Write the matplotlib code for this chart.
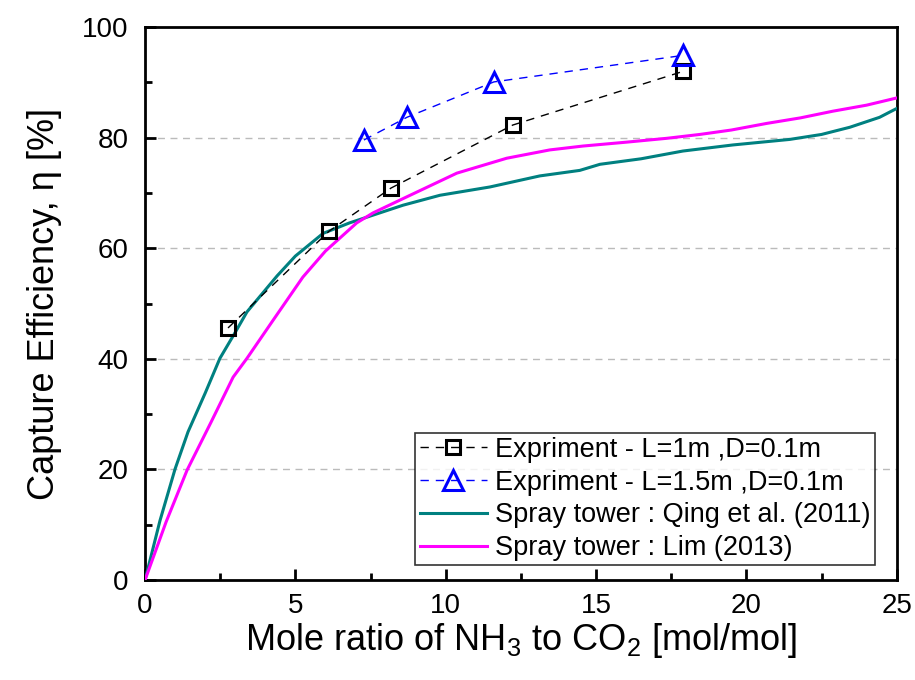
import matplotlib
matplotlib.use('Agg')
import matplotlib.pyplot as plt
from matplotlib.ticker import MultipleLocator

plt.rcParams['font.family'] = ['Liberation Sans', 'DejaVu Sans']
plt.rcParams['mathtext.fontset'] = 'custom'
plt.rcParams['mathtext.rm'] = 'Liberation Sans'
plt.rcParams['mathtext.it'] = 'Liberation Sans:italic'

# experiment, L=1m
exp1_x = [2.76, 6.12, 8.18, 12.23, 17.89]
exp1_y = [45.6, 63.1, 70.9, 82.3, 92.0]

# experiment, L=1.5m
exp2_x = [7.28, 8.71, 11.6, 17.89]
exp2_y = [79.6, 83.7, 90.1, 94.9]

# Qing et al. (2011)
qing_x = [0, 0.5, 1.0, 1.43, 2.0, 2.49, 3.0, 3.39, 4.39, 5.0, 5.92, 6.8, 7.58, 8.58,
          9.81, 11.47, 13.13, 14.46, 15.13, 16.5, 17.89, 19.55, 21.44, 22.5, 23.44, 24.43, 25]
qing_y = [0, 10.8, 20.1, 26.8, 33.8, 40.1, 44.8, 48.5, 55.0, 58.6, 62.7, 64.6, 66.0, 67.8,
          69.6, 71.1, 73.1, 74.1, 75.2, 76.2, 77.6, 78.7, 79.7, 80.6, 81.9, 83.7, 85.3]

# Lim (2013)
lim_x = [0, 0.7, 1.4, 2.2, 2.93, 3.39, 4.26, 5.25, 6.0, 7.04, 7.58, 8.7, 10.37, 12.03,
         13.46, 14.56, 16.0, 17.35, 18.45, 19.5, 20.68, 21.8, 22.87, 24.0, 25]
lim_y = [0, 10.5, 19.9, 28.6, 36.7, 40.1, 47.0, 54.8, 59.5, 64.6, 66.4, 69.3, 73.6, 76.3,
         77.8, 78.5, 79.2, 79.9, 80.6, 81.4, 82.6, 83.6, 84.8, 85.9, 87.2]

fig = plt.figure(figsize=(9.15, 6.8), dpi=100)
ax = fig.add_axes([0.1585, 0.147, 0.8215, 0.813])

ax.plot(exp1_x, exp1_y, ls=(0, (6, 5)), lw=1.0, color='black', marker='s', ms=10,
        mfc='none', mec='black', mew=2.2, label='Expriment - L=1m ,D=0.1m', zorder=4)
ax.plot(exp2_x, exp2_y, ls=(0, (6, 5)), lw=1.0, color='blue', marker='^', ms=15,
        mfc='none', mec='blue', mew=2.2, label='Expriment - L=1.5m ,D=0.1m', zorder=4)
ax.plot(qing_x, qing_y, color='#008080', lw=2.2, label='Spray tower : Qing et al. (2011)', zorder=3)
ax.plot(lim_x, lim_y, color='#ff00ff', lw=2.2, label='Spray tower : Lim (2013)', zorder=3)

ax.set_xlim(0, 25)
ax.set_ylim(0, 100)
ax.xaxis.set_major_locator(MultipleLocator(5))
ax.xaxis.set_minor_locator(MultipleLocator(2.5))
ax.yaxis.set_major_locator(MultipleLocator(20))
ax.yaxis.set_minor_locator(MultipleLocator(10))
ax.tick_params(which='both', direction='in', width=2, labelsize=20, pad=9)
ax.tick_params(axis='y', which='both', pad=12)
ax.tick_params(which='major', length=8)
ax.tick_params(which='minor', length=5)
for s in ax.spines.values():
    s.set_linewidth(2)

# dashed horizontal guides
for yv in [20, 40, 60, 80]:
    ax.axhline(yv, color='#bbbbbb', lw=1.0, ls=(0, (5, 4)), zorder=1)

ax.set_xlabel('Mole ratio of NH$_3$ to CO$_2$ [mol/mol]', fontsize=26, labelpad=2)
ax.set_ylabel('Capture Efficiency, η [%]', fontsize=26, labelpad=14)

leg = ax.legend(loc='lower right', bbox_to_anchor=(0.971, 0.027), fontsize=19.5,
                frameon=True, fancybox=False, edgecolor='black', handlelength=2.5,
                handletextpad=0.3, borderpad=0.15, labelspacing=0.25, borderaxespad=0)
leg.get_frame().set_linewidth(1.2)

fig.savefig('out.png', dpi=100)
